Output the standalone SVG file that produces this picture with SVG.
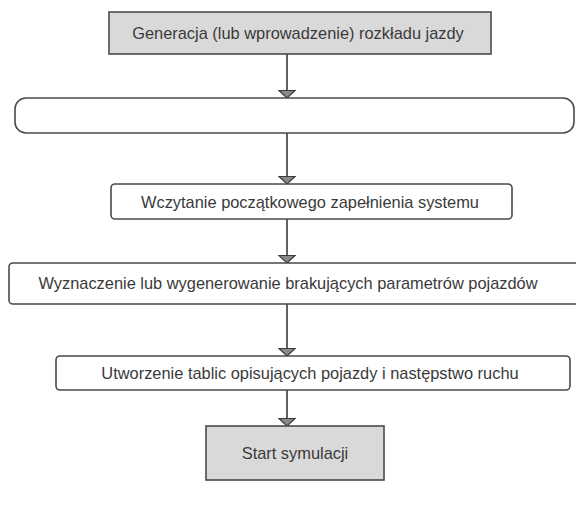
<svg xmlns="http://www.w3.org/2000/svg" width="576" height="506" viewBox="0 0 576 506">
<defs>
<style>
.box{fill:#ffffff;stroke:#4a4a4a;stroke-width:1.6}
.gray{fill:#d9d9d9;stroke:#4a4a4a;stroke-width:1.6}
.lbl{font-family:"Liberation Sans",Arial,sans-serif;font-size:16.4px;fill:#3a3a3a;text-anchor:middle;dominant-baseline:central}
.conn{stroke:#3a3a3a;stroke-width:1.6;fill:none}
</style>
<marker id="arr" markerWidth="10" markerHeight="18" refX="8.5" refY="9" orient="auto" markerUnits="userSpaceOnUse" viewBox="0 0 10 18">
<path d="M1,1 L1,17 L8.5,9 Z" fill="#8a8a8a" stroke="#3a3a3a" stroke-width="1.2"/>
</marker>
</defs>
<rect width="576" height="506" fill="#ffffff"/>
<g id="connectors">
<line class="conn" x1="287" y1="54" x2="287" y2="98" marker-end="url(#arr)"/>
<line class="conn" x1="287" y1="133" x2="287" y2="184" marker-end="url(#arr)"/>
<line class="conn" x1="287" y1="219" x2="287" y2="263" marker-end="url(#arr)"/>
<line class="conn" x1="287" y1="304" x2="287" y2="356" marker-end="url(#arr)"/>
<line class="conn" x1="287" y1="390" x2="287" y2="426" marker-end="url(#arr)"/>
</g>
<g id="node1">
<rect class="gray" x="109" y="12" width="382" height="42"/>
<text class="lbl" x="298" y="33">Generacja (lub wprowadzenie) rozkładu jazdy</text>
</g>
<g id="node2">
<rect class="box" x="15" y="98" width="559" height="35" rx="11" ry="11"/>
</g>
<g id="node3">
<rect class="box" x="111" y="184" width="401" height="35" rx="4" ry="4"/>
<text class="lbl" x="310" y="202">Wczytanie początkowego zapełnienia systemu</text>
</g>
<g id="node4">
<rect class="box" x="9" y="263" width="572" height="41" rx="4" ry="4"/>
<text class="lbl" x="288" y="283">Wyznaczenie lub wygenerowanie brakujących parametrów pojazdów</text>
</g>
<g id="node5">
<rect class="box" x="56" y="356" width="514" height="34" rx="4" ry="4"/>
<text class="lbl" x="310" y="373">Utworzenie tablic opisujących pojazdy i następstwo ruchu</text>
</g>
<g id="node6">
<rect class="gray" x="206" y="426" width="178" height="54"/>
<text class="lbl" x="295" y="453">Start symulacji</text>
</g>
</svg>
